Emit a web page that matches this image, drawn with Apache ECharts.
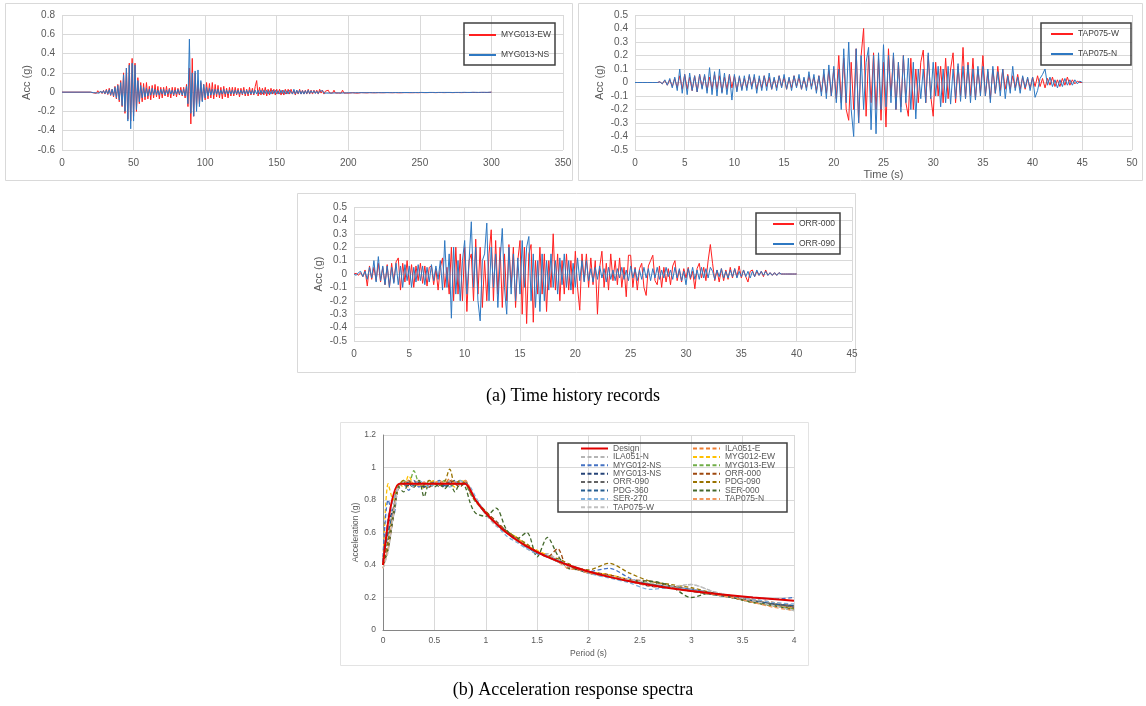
<!DOCTYPE html>
<html>
<head>
<meta charset="utf-8">
<script src="https://cdn.jsdelivr.net/npm/echarts@6/dist/echarts.min.js"></script>
<style>
html,body{margin:0;padding:0;background:#fff}
#chart{width:1146px;height:706px}
</style>
</head>
<body>
<div id="chart"></div>
<script>
// ---- time history: MYG013 (t from 20 s, dt 1 s) ----
var myg013Start = 20, myg013Dt = 1;
var myg013EW = [
  0, 0.005, -0.008, 0.01, -0.012, 0.015, -0.01, 0.012, -0.015, 0.018,
  -0.02, 0.03, -0.025, 0.04, -0.035, 0.03, -0.05, 0.06, -0.07, 0.08,
  -0.1, 0.12, -0.15, 0.2, -0.22, 0.25, -0.28, 0.3, -0.3, 0.35,
  -0.25, 0.3, -0.2, 0.15, -0.12, 0.1, -0.1, 0.09, -0.08, 0.1,
  -0.07, 0.06, -0.08, 0.07, -0.06, 0.08, -0.05, 0.06, -0.07, 0.05,
  -0.06, 0.05, -0.04, 0.06, -0.05, 0.04, -0.06, 0.05, -0.04, 0.05,
  -0.05, 0.04, -0.03, 0.05, -0.04, 0.05, -0.06, 0.08, -0.15, 0.25,
  -0.33, 0.35, -0.25, 0.2, -0.15, 0.12, -0.12, 0.1, -0.09, 0.08,
  -0.08, 0.1, -0.07, 0.09, -0.06, 0.1, -0.07, 0.08, -0.05, 0.07,
  -0.06, 0.05, -0.07, 0.06, -0.05, 0.04, -0.06, 0.05, -0.04, 0.05,
  -0.04, 0.05, -0.03, 0.04, -0.05, 0.04, -0.03, 0.05, -0.04, 0.03,
  -0.04, 0.05, -0.03, 0.04, -0.03, 0.06, 0.12, -0.04, 0.05, -0.03,
  0.04, -0.03, 0.05, -0.04, 0.03, -0.03, 0.04, -0.02, 0.03, -0.03,
  0.03, -0.02, 0.03, -0.03, 0.02, -0.03, 0.03, -0.02, 0.03, -0.02,
  0.03, -0.02, 0.02, -0.03, 0.02, -0.02, 0.03, -0.02, 0.02, -0.02,
  0.02, -0.02, 0.03, -0.02, 0.02, -0.02, 0.02, -0.01, 0.02, -0.02,
  0.03, -0.01, 0.02, -0.02, 0.01, -0.01, 0.02, -0.01, 0.01, -0.01,
  0.02, -0.01, 0.01, -0.01, 0.01, -0.01, 0.02, -0.01, 0.01, -0.01,
  0.01, -0.01, 0.01, -0.005, 0.01, -0.01, 0.005, -0.01, 0.01, -0.005,
  0.008, -0.006, 0.005, -0.008, 0.006, -0.005, 0.007, -0.006, 0.005, -0.007,
  0.006, -0.005, 0.008, -0.006, 0.005, -0.006, 0.007, -0.005, 0.006, -0.005,
  0.005, -0.006, 0.007, -0.005, 0.006, -0.007, 0.005, -0.006, 0.008, -0.005,
  0.006, -0.005, 0.005, -0.006, 0.007, -0.005, 0.006, -0.005, 0.005, -0.006,
  0.005, -0.004, 0.006, -0.005, 0.004, -0.005, 0.006, -0.004, 0.005, -0.004,
  0.004, -0.005, 0.006, -0.004, 0.005, -0.004, 0.004, -0.005, 0.006, -0.004,
  0.005, -0.004, 0.004, -0.005, 0.006, -0.004, 0.005, -0.004, 0.004, -0.005,
  0.004, -0.004, 0.005, -0.004, 0.003, -0.004, 0.005, -0.003, 0.004, -0.004,
  0.003, -0.004, 0.004, -0.003, 0.004, -0.003, 0.003, -0.004, 0.003, -0.002,
  0
];
var myg013NS = [
  0, 0.003, -0.005, 0.006, -0.008, 0.01, -0.01, 0.012, -0.01, 0.015,
  -0.015, 0.02, -0.02, 0.025, -0.03, 0.03, -0.04, 0.05, -0.06, 0.07,
  -0.08, 0.1, -0.14, 0.18, -0.2, 0.25, -0.3, 0.28, -0.38, 0.3,
  -0.3, 0.28, -0.18, 0.12, -0.1, 0.07, -0.06, 0.05, -0.05, 0.04,
  -0.04, 0.03, -0.03, 0.04, -0.03, 0.03, -0.03, 0.02, -0.03, 0.03,
  -0.02, 0.03, -0.03, 0.02, -0.02, 0.03, -0.02, 0.02, -0.03, 0.02,
  -0.02, 0.03, -0.02, 0.02, -0.03, 0.03, -0.04, 0.06, -0.12, 0.55,
  -0.22, 0.2, -0.25, 0.22, -0.2, 0.23, -0.15, 0.12, -0.1, 0.08,
  -0.06, 0.05, -0.04, 0.04, -0.03, 0.03, -0.03, 0.03, -0.02, 0.03,
  -0.03, 0.02, -0.02, 0.03, -0.02, 0.02, -0.02, 0.02, -0.02, 0.02,
  -0.02, 0.02, -0.02, 0.02, -0.02, 0.02, -0.02, 0.02, -0.02, 0.02,
  -0.02, 0.02, -0.02, 0.02, -0.02, 0.02, -0.02, 0.02, -0.02, 0.02,
  -0.02, 0.02, -0.015, 0.02, -0.02, 0.015, -0.02, 0.02, -0.015, 0.02,
  -0.02, 0.015, -0.02, 0.02, -0.015, 0.02, -0.02, 0.015, -0.02, 0.02,
  0.04, -0.02, 0.03, -0.02, 0.02, -0.015, 0.02, -0.02, 0.015, -0.02,
  0.015, -0.015, 0.02, -0.015, 0.015, -0.01, 0.015, -0.015, 0.01, -0.015,
  0.01, -0.01, 0.015, -0.01, 0.01, -0.01, 0.01, -0.01, 0.01, -0.01,
  0.01, -0.008, 0.01, -0.008, 0.008, -0.01, 0.008, -0.008, 0.01, -0.008,
  0.008, -0.006, 0.006, -0.008, 0.006, -0.006, 0.008, -0.006, 0.006, -0.005,
  0.005, -0.006, 0.005, -0.005, 0.006, -0.005, 0.005, -0.006, 0.005, -0.005,
  0.005, -0.005, 0.006, -0.005, 0.004, -0.005, 0.005, -0.004, 0.005, -0.005,
  0.004, -0.005, 0.005, -0.004, 0.005, -0.004, 0.004, -0.005, 0.005, -0.004,
  0.004, -0.004, 0.005, -0.004, 0.004, -0.005, 0.004, -0.004, 0.005, -0.004,
  0.004, -0.003, 0.004, -0.004, 0.003, -0.004, 0.004, -0.003, 0.004, -0.003,
  0.003, -0.004, 0.003, -0.003, 0.004, -0.003, 0.003, -0.003, 0.004, -0.003,
  0.003, -0.003, 0.003, -0.004, 0.003, -0.003, 0.003, -0.003, 0.003, -0.003,
  0.003, -0.002, 0.003, -0.003, 0.002, -0.003, 0.003, -0.002, 0.003, -0.002,
  0.002, -0.003, 0.002, -0.002, 0.003, -0.002, 0.002, -0.002, 0.002, -0.001,
  0
];

// ---- time history: TAP075 (t from 0 s, dt 0.25 s) ----
var tapStart = 0, tapDt = 0.25;
var tap075W = [
  0, 0, 0, 0,  0, 0, 0, 0,  0, 0, 0.005, -0.01,  0.015, -0.02, 0.02, -0.03,
  0.03, -0.04, 0.05, -0.05,  0.06, -0.05, 0.04, -0.06,  0.05, -0.07, 0.06, -0.04,
  0.05, -0.06, 0.04, -0.05,  0.06, -0.05, 0.05, -0.07,  0.04, -0.05, 0.06, -0.04,
  0.05, -0.06, 0.04, -0.05,  0.03, -0.04, 0.05, -0.03,  0.04, -0.05, 0.03, -0.04,
  0.05, -0.03, 0.04, -0.05,  0.03, -0.04, 0.05, -0.03,  0.04, -0.05, 0.03, -0.04,
  0.05, -0.03, 0.04, -0.05,  0.03, -0.04, 0.05, -0.03,  0.04, -0.06, 0.05, -0.07,
  0.06, -0.08, 0.09, -0.1,  0.1, -0.12, 0.2, -0.15,  0.18, -0.2, -0.28, 0.15,
  -0.2, 0.25, -0.3, 0.2,  0.4, -0.25, 0.2, -0.15,  0.22, -0.2, 0.18, -0.28,
  0.15, -0.33, 0.25, -0.1,  0.2, -0.2, 0.15, -0.18,  0.2, -0.15, -0.25, 0.18,
  -0.2, 0.1, -0.15, 0.15,  0.24, -0.15, 0.2, -0.1,  -0.25, 0.15, -0.1, 0.12,
  -0.15, 0.18, -0.12, 0.1,  0.22, -0.15, 0.12, -0.1,  0.26, -0.12, 0.15, -0.1,
  0.18, -0.12, 0.1, -0.08,  0.2, -0.1, 0.08, -0.12,  0.1, -0.08, 0.12, -0.06,
  0.1, -0.05, 0.06, -0.05,  0.05, -0.04, 0.06, -0.05,  0.04, -0.05, 0.03, -0.04,
  0.04, -0.03, 0.05, -0.03,  0.03, -0.04, 0.03, -0.02,  0.04, -0.03, 0.02, -0.03,
  0.03, -0.02, 0.04, -0.02,  0.02, -0.01, 0.01, 0,
  0
];
var tap075N = [
  0, 0, 0, 0,  0, 0, 0, 0,  0, 0, 0.005, -0.01,  0.02, -0.02, 0.03, -0.04,
  0.04, -0.06, 0.1, -0.08,  0.06, -0.09, 0.07, -0.06,  0.05, -0.07, 0.06, -0.05,
  0.06, -0.08, 0.11, -0.09,  0.08, -0.1, 0.1, -0.08,  0.07, -0.09, 0.06, -0.13,
  0.06, -0.07, 0.05, -0.06,  0.05, -0.06, 0.06, -0.05,  0.06, -0.08, 0.05, -0.06,
  0.05, -0.06, 0.07, -0.05,  0.04, -0.06, 0.05, -0.04,  0.06, -0.05, 0.04, -0.06,
  0.05, -0.04, 0.06, -0.05,  0.04, -0.06, 0.08, -0.05,  0.06, -0.08, 0.05, -0.1,
  0.1, -0.12, 0.13, -0.1,  0.12, -0.15, 0.1, -0.2,  0.25, -0.15, 0.3, -0.2,
  -0.4, 0.25, -0.3, 0.2,  -0.2, 0.15, 0.26, -0.35,  0.2, -0.38, 0.22, -0.2,
  0.28, -0.18, 0.2, -0.15,  0.22, -0.2, 0.15, -0.22,  0.2, -0.15, 0.18, -0.2,
  0.15, -0.27, 0.1, -0.12,  0.1, -0.15, 0.22, -0.12,  0.15, -0.1, 0.12, -0.18,
  0.1, -0.15, 0.12, -0.16,  0.1, -0.12, 0.14, -0.14,  0.12, -0.12, 0.13, -0.15,
  0.1, -0.13, 0.12, -0.1,  0.12, -0.1, 0.1, -0.15,  0.12, -0.08, 0.08, -0.1,
  0.1, -0.12, 0.05, -0.08,  0.12, -0.06, 0.04, -0.08,  0.05, -0.04, 0.04, -0.06,
  0.04, -0.11, -0.06, 0.03,  0.06, 0.1, -0.02, 0.04,  -0.03, 0.02, -0.04, 0.02,
  -0.03, 0.03, -0.02, 0.02,  -0.02, 0.02, -0.01, 0.01,
  0
];

// ---- time history: ORR (t from 0 s, dt 0.2 s) ----
var orrStart = 0, orrDt = 0.2;
var orr000 = [
  0, 0.005, -0.01, 0.01, -0.02,   0.03, -0.09, 0.06, -0.04, 0.05,
  -0.05, 0.08, -0.06, 0.05, -0.08,   0.07, -0.1, 0.08, -0.06, 0.09,
  0.12, -0.12, 0.08, -0.06, 0.1,   -0.08, 0.07, -0.1, 0.06, -0.05,
  0.08, -0.07, 0.06, -0.09, 0.05,   0.06, -0.08, 0.04, -0.12, 0.05,
  0.12, -0.1, 0.05, -0.15, 0.2,   -0.2, 0.2, -0.15, 0.15, -0.2,
  0.2, -0.28, 0.1, 0.15, -0.2,   0.26, -0.15, 0.2, -0.25, 0.1,
  -0.2, 0.15, 0.33, -0.2, 0.25,   -0.15, 0.2, -0.25, 0.15, -0.2,
  0.22, -0.1, 0.2, -0.25, 0.1,   0.25, -0.3, 0.2, -0.37, 0.15,
  0.22, -0.36, 0.1, -0.15, 0.2,   -0.15, 0.15, -0.28, 0.1, -0.1,
  0.3, -0.12, 0.15, -0.2, 0.1,   -0.15, 0.15, -0.12, 0.1, -0.15,
  0.17, -0.1, -0.27, 0.15, -0.05,   0.15, -0.1, 0.12, -0.08, 0.1,
  -0.3, 0.05, 0.17, -0.1, 0.08,   -0.12, 0.15, -0.05, 0.1, -0.08,
  0.12, -0.1, 0.05, -0.17, 0.14,   0.14, -0.1, 0.05, -0.12, 0.04,
  0.08, -0.1, -0.16, 0.06, 0.1,   0.14, -0.05, -0.08, 0.06, -0.1,
  0.05, -0.06, 0.04, -0.08, 0.06,   0.1, -0.05, 0.03, -0.06, 0.04,
  -0.03, 0.05, -0.04, 0.02, -0.11,   0.04, 0.08, -0.03, 0.05, -0.05,
  0.1, 0.22, 0.08, -0.05, 0.03,   -0.06, 0.04, -0.05, 0.03, -0.04,
  0.05, -0.03, 0.04, -0.02, 0.06,   -0.03, 0.03, -0.02, -0.06, 0.02,
  0.03, -0.02, 0.02, -0.01, 0.02,   -0.02, 0.03, -0.01, 0.01, -0.01,
  0.01, -0.01, 0.01, 0, 0,   0, 0, 0, 0, 0,
  0
];
var orr090 = [
  0, -0.01, 0.01, 0.02, -0.02,   0.02, -0.04, 0.05, -0.03, 0.1,
  -0.06, 0.13, -0.05, 0.06, -0.08,   0.06, -0.1, 0.05, -0.07, 0.08,
  -0.08, 0.06, -0.1, 0.07, -0.05,   0.06, -0.1, 0.05, -0.06, 0.07,
  -0.05, 0.06, -0.08, 0.05, -0.06,   0.07, -0.05, 0.06, -0.04, 0.1,
  -0.12, 0.25, -0.1, 0.15, -0.33,   0.2, -0.15, 0.1, -0.2, 0.1,
  0.25, -0.15, 0.1, 0.39, -0.1,   0.2, -0.2, -0.35, 0.1, 0.15,
  0.38, -0.2, 0.2, -0.1, 0.15,   -0.25, 0.1, 0.34, -0.1, -0.3,
  0.2, -0.15, 0.15, -0.2, 0.12,   -0.15, 0.25, -0.1, 0.2, 0.28,
  -0.2, 0.15, -0.25, 0.1, -0.28,   0.15, -0.2, 0.1, -0.12, 0.15,
  -0.1, 0.1, -0.15, 0.12, -0.08,   0.15, -0.1, 0.1, -0.12, 0.08,
  -0.1, 0.12, -0.05, 0.1, -0.06,   0.1, -0.05, 0.04, -0.06, 0.05,
  -0.04, 0.06, -0.03, 0.04, -0.06,   0.05, -0.04, 0.03, -0.05, 0.04,
  -0.03, 0.05, -0.04, 0.03, -0.05,   0.06, -0.03, 0.04, -0.05, 0.03,
  -0.04, 0.05, -0.03, 0.04, -0.05,   0.04, -0.03, 0.05, -0.04, 0.03,
  -0.03, 0.05, -0.02, 0.03, -0.04,   0.05, -0.03, 0.04, -0.05, 0.02,
  -0.08, 0.04, -0.03, 0.05, -0.04,   0.03, -0.04, 0.05, -0.03, 0.04,
  -0.03, 0.05, 0.02, -0.04, 0.03,   -0.02, 0.04, -0.03, 0.02, -0.03,
  0.03, -0.02, 0.04, -0.03, 0.02,   -0.02, 0.03, -0.02, 0.02, -0.03,
  0.02, -0.02, 0.03, -0.01, 0.02,   -0.01, 0.02, -0.01, 0.01, -0.01,
  0.01, -0.01, 0.01, 0, 0,   0, 0, 0, 0, 0,
  0
];

// ---- acceleration response spectra ----
var periods = [0, 0.05, 0.1, 0.15, 0.2, 0.25, 0.3, 0.35, 0.4, 0.45, 0.5, 0.55, 0.6, 0.65, 0.7, 0.75, 0.8, 0.85, 0.9,
  1.0, 1.1, 1.2, 1.3, 1.4, 1.5, 1.6, 1.7, 1.8, 1.9, 2.0,
  2.2, 2.4, 2.6, 2.8, 3.0, 3.2, 3.4, 3.6, 3.8, 4.0];
var designPeriods = [0, 0.16, 0.8, 0.9, 1.0, 1.1, 1.2, 1.3, 1.4, 1.5, 1.6, 1.8, 2.0, 2.2, 2.4, 2.6, 2.8, 3.0, 3.3, 3.6, 4.0];
var designAcc = [0.4, 0.9, 0.9, 0.8, 0.72, 0.655, 0.6, 0.554, 0.514, 0.48, 0.45, 0.4, 0.36, 0.327, 0.3, 0.277, 0.257, 0.24, 0.218, 0.2, 0.18];
var recordNames = ['ILA051-E', 'ILA051-N', 'MYG012-EW', 'MYG012-NS', 'MYG013-EW', 'MYG013-NS', 'ORR-000',
  'ORR-090', 'PDG-090', 'PDG-360', 'SER-000', 'SER-270', 'TAP075-N', 'TAP075-W'];
var recordColors = ['#ed7d31', '#b4b4b4', '#ffc000', '#4472c4', '#70ad47', '#264478', '#9e480e',
  '#636363', '#997300', '#255e91', '#43682b', '#7cafdd', '#f1975a', '#c0c0c0'];
var recordAcc = [
  [0.38,0.5,0.7,0.88,0.9,0.88,0.92,0.9,0.88,0.9,0.92,0.89,0.9,0.93,0.9,0.91,0.9,0.84,0.79, 0.72,0.66,0.6,0.56,0.52,0.48,0.46,0.43,0.4,0.38,0.36, 0.33,0.3,0.28,0.27,0.24,0.22,0.21,0.19,0.17,0.15],
  [0.4,0.6,0.75,0.88,0.91,0.9,0.89,0.92,0.88,0.9,0.91,0.9,0.88,0.92,0.9,0.9,0.91,0.86,0.8, 0.71,0.64,0.6,0.55,0.5,0.47,0.47,0.43,0.39,0.37,0.36, 0.33,0.3,0.28,0.26,0.28,0.24,0.2,0.17,0.15,0.13],
  [0.4,0.9,0.8,0.9,0.88,0.95,0.9,0.92,0.87,0.9,0.92,0.89,0.91,0.9,0.88,0.92,0.91,0.85,0.8, 0.72,0.66,0.61,0.57,0.52,0.49,0.46,0.42,0.4,0.37,0.36, 0.34,0.31,0.28,0.26,0.24,0.22,0.2,0.18,0.16,0.14],
  [0.45,0.8,0.7,0.88,0.9,0.86,0.92,0.88,0.91,0.88,0.9,0.92,0.88,0.9,0.92,0.89,0.9,0.86,0.8, 0.72,0.67,0.6,0.56,0.51,0.47,0.45,0.42,0.4,0.38,0.36, 0.38,0.32,0.28,0.27,0.25,0.23,0.21,0.2,0.19,0.2],
  [0.42,0.6,0.72,0.88,0.92,0.9,0.98,0.9,0.88,0.92,0.89,0.9,0.92,0.88,0.9,0.91,0.9,0.84,0.79, 0.73,0.66,0.6,0.57,0.52,0.48,0.45,0.43,0.4,0.38,0.36, 0.33,0.3,0.29,0.27,0.24,0.22,0.2,0.17,0.15,0.13],
  [0.42,0.65,0.75,0.88,0.9,0.89,0.9,0.91,0.88,0.9,0.9,0.9,0.88,0.9,0.92,0.89,0.91,0.85,0.8, 0.72,0.66,0.61,0.56,0.51,0.48,0.45,0.43,0.4,0.37,0.35, 0.33,0.3,0.27,0.26,0.24,0.22,0.2,0.18,0.16,0.15],
  [0.4,0.5,0.7,0.88,0.9,0.92,0.88,0.9,0.9,0.88,0.9,0.91,0.89,0.92,0.9,0.88,0.92,0.86,0.8, 0.73,0.67,0.61,0.56,0.52,0.48,0.45,0.5,0.38,0.38,0.36, 0.34,0.31,0.3,0.27,0.25,0.23,0.21,0.18,0.16,0.14],
  [0.4,0.55,0.7,0.88,0.9,0.9,0.88,0.91,0.89,0.9,0.91,0.88,0.9,0.91,0.9,0.9,0.91,0.86,0.8, 0.72,0.66,0.6,0.55,0.51,0.48,0.45,0.42,0.4,0.38,0.36, 0.33,0.3,0.28,0.26,0.24,0.22,0.2,0.18,0.16,0.14],
  [0.4,0.55,0.72,0.88,0.92,0.9,0.88,0.9,0.89,0.92,0.9,0.89,0.91,0.99,0.9,0.92,0.9,0.86,0.8, 0.73,0.66,0.61,0.57,0.53,0.48,0.45,0.44,0.41,0.38,0.37, 0.41,0.35,0.3,0.28,0.26,0.23,0.2,0.17,0.15,0.13],
  [0.42,0.6,0.73,0.88,0.9,0.91,0.89,0.9,0.9,0.89,0.9,0.9,0.89,0.9,0.91,0.9,0.9,0.86,0.8, 0.72,0.66,0.6,0.56,0.51,0.48,0.45,0.43,0.4,0.38,0.36, 0.33,0.3,0.28,0.26,0.24,0.22,0.2,0.18,0.16,0.15],
  [0.4,0.5,0.7,0.88,0.85,0.9,0.88,0.92,0.82,0.9,0.88,0.9,0.87,0.9,0.85,0.9,0.88,0.78,0.72, 0.7,0.75,0.62,0.56,0.6,0.45,0.57,0.46,0.38,0.37,0.35, 0.33,0.3,0.3,0.27,0.2,0.23,0.2,0.17,0.15,0.12],
  [0.42,0.7,0.8,0.88,0.9,0.9,0.88,0.92,0.9,0.88,0.9,0.91,0.9,0.88,0.9,0.92,0.9,0.88,0.82, 0.72,0.65,0.58,0.54,0.5,0.47,0.46,0.42,0.4,0.38,0.35, 0.32,0.29,0.25,0.26,0.25,0.23,0.21,0.19,0.17,0.16],
  [0.38,0.5,0.72,0.88,0.9,0.92,0.9,0.89,0.91,0.9,0.9,0.92,0.9,0.9,0.91,0.9,0.92,0.87,0.8, 0.72,0.66,0.6,0.56,0.52,0.48,0.45,0.42,0.38,0.37,0.35, 0.33,0.3,0.27,0.26,0.24,0.22,0.2,0.17,0.14,0.12],
  [0.38,0.48,0.7,0.88,0.9,0.9,0.9,0.9,0.89,0.9,0.9,0.9,0.9,0.9,0.9,0.9,0.9,0.86,0.81, 0.72,0.66,0.6,0.55,0.51,0.48,0.45,0.43,0.4,0.38,0.36, 0.33,0.31,0.29,0.27,0.28,0.24,0.21,0.18,0.15,0.12]
];
var legendLeftCol = ['Design', 'ILA051-N', 'MYG012-NS', 'MYG013-NS', 'ORR-090', 'PDG-360', 'SER-270', 'TAP075-W'];
var legendRightCol = ['ILA051-E', 'MYG012-EW', 'MYG013-EW', 'ORR-000', 'PDG-090', 'SER-000', 'TAP075-N'];

var RED = '#ff2020', BLUE = '#2e78c2';
var GRAY_TXT = '#595959', GRID_LINE = '#d9d9d9';
var FONT = 'Liberation Sans, Arial, sans-serif';
// hides the circle that line series put in the middle of legend icons
var NO_SYMBOL = { opacity: 0, color: 'rgba(0,0,0,0)', borderColor: 'rgba(0,0,0,0)', borderWidth: 0 };

function toPairs(t0, dt, vals) {
  return vals.map(function (v, i) { return [+(t0 + i * dt).toFixed(3), v]; });
}
function pairUp(xs, ys) {
  return xs.map(function (x, i) { return [x, ys[i]]; });
}

function thXAxis(gi, max, interval, name) {
  return {
    gridIndex: gi, type: 'value', min: 0, max: max, interval: interval,
    name: name || '', nameLocation: 'middle', nameGap: 19,
    nameTextStyle: { color: GRAY_TXT, fontSize: 11, fontFamily: FONT },
    axisLine: { show: false }, axisTick: { show: false },
    axisLabel: { color: GRAY_TXT, fontSize: 10, fontFamily: FONT, margin: 8 },
    splitLine: { show: true, lineStyle: { color: GRID_LINE, width: 1 } }
  };
}
function thYAxis(gi, min, max, interval) {
  return {
    gridIndex: gi, type: 'value', min: min, max: max, interval: interval,
    name: 'Acc (g)', nameLocation: 'middle', nameGap: 30,
    nameTextStyle: { color: GRAY_TXT, fontSize: 11, fontFamily: FONT },
    axisLine: { show: false }, axisTick: { show: false },
    axisLabel: { color: GRAY_TXT, fontSize: 10, fontFamily: FONT, margin: 7 },
    splitLine: { show: true, lineStyle: { color: GRID_LINE, width: 1 } }
  };
}
function thSeries(name, gi, color, data) {
  return {
    name: name, type: 'line', xAxisIndex: gi, yAxisIndex: gi,
    data: data, symbol: 'none', showSymbol: false,
    lineStyle: { color: color, width: 1 }, itemStyle: { color: color },
    silent: true
  };
}
function thLegend(names, left, top, iw) {
  return {
    data: names, orient: 'vertical', left: left, top: top, padding: 0,
    itemWidth: iw, itemHeight: 10, itemGap: 8, selectedMode: false,
    itemStyle: NO_SYMBOL,
    formatter: function (n) { return n.replace('th:', ''); },
    textStyle: { color: '#404040', fontSize: 8.5, fontFamily: FONT, lineHeight: 12 }
  };
}

var series = [
  thSeries('th:MYG013-EW', 0, RED, [[0, 0]].concat(toPairs(myg013Start, myg013Dt, myg013EW))),
  thSeries('th:MYG013-NS', 0, BLUE, [[0, 0]].concat(toPairs(myg013Start, myg013Dt, myg013NS))),
  thSeries('th:TAP075-W', 1, RED, toPairs(tapStart, tapDt, tap075W)),
  thSeries('th:TAP075-N', 1, BLUE, toPairs(tapStart, tapDt, tap075N)),
  thSeries('th:ORR-000', 2, RED, toPairs(orrStart, orrDt, orr000)),
  thSeries('th:ORR-090', 2, BLUE, toPairs(orrStart, orrDt, orr090))
];
recordNames.forEach(function (n, k) {
  series.push({
    name: n, type: 'line', xAxisIndex: 3, yAxisIndex: 3,
    data: pairUp(periods, recordAcc[k]), symbol: 'none', smooth: 0.3,
    lineStyle: { color: recordColors[k], width: 1.3, type: [4, 2.5] },
    itemStyle: { color: recordColors[k] }, silent: true
  });
});
series.push({
  name: 'Design', type: 'line', xAxisIndex: 3, yAxisIndex: 3, z: 5,
  data: pairUp(designPeriods, designAcc), symbol: 'none', smooth: 0.2,
  lineStyle: { color: '#e00000', width: 2 }, itemStyle: { color: '#e00000' }, silent: true
});

var spAxisText = { color: GRAY_TXT, fontSize: 8.5, fontFamily: FONT };
function spLegend(names, left) {
  return {
    data: names, orient: 'vertical', left: left, top: 444, padding: 0,
    itemWidth: 27, itemHeight: 7, itemGap: -0.6, selectedMode: false,
    itemStyle: NO_SYMBOL,
    textStyle: { color: GRAY_TXT, fontSize: 8.5, fontFamily: FONT, lineHeight: 7 }
  };
}

var option = {
  animation: false,
  backgroundColor: '#fff',
  grid: [
    { left: 62, top: 15, width: 501, height: 135 },
    { left: 635, top: 15, width: 497, height: 135 },
    { left: 354, top: 207, width: 498, height: 134 },
    { left: 383, top: 435, width: 411, height: 195 }
  ],
  xAxis: [
    thXAxis(0, 350, 50),
    thXAxis(1, 50, 5, 'Time (s)'),
    thXAxis(2, 45, 5),
    {
      gridIndex: 3, type: 'value', min: 0, max: 4, interval: 0.5,
      name: 'Period (s)', nameLocation: 'middle', nameGap: 19, nameTextStyle: spAxisText,
      axisLine: { show: true, lineStyle: { color: '#868686' } },
      axisTick: { show: false },
      axisLabel: Object.assign({ margin: 6 }, spAxisText),
      splitLine: { show: true, lineStyle: { color: GRID_LINE } }
    }
  ],
  yAxis: [
    thYAxis(0, -0.6, 0.8, 0.2),
    thYAxis(1, -0.5, 0.5, 0.1),
    thYAxis(2, -0.5, 0.5, 0.1),
    {
      gridIndex: 3, type: 'value', min: 0, max: 1.2, interval: 0.2,
      name: 'Acceleration (g)', nameLocation: 'middle', nameGap: 20, nameTextStyle: spAxisText,
      axisLine: { show: true, lineStyle: { color: '#868686' } },
      axisTick: { show: false },
      axisLabel: Object.assign({ margin: 7 }, spAxisText),
      splitLine: { show: true, lineStyle: { color: GRID_LINE } }
    }
  ],
  legend: [
    thLegend(['th:MYG013-EW', 'th:MYG013-NS'], 468, 29, 27),
    thLegend(['th:TAP075-W', 'th:TAP075-N'], 1050, 28, 22),
    thLegend(['th:ORR-000', 'th:ORR-090'], 772, 218, 21),
    spLegend(legendLeftCol, 580),
    spLegend(legendRightCol, 692)
  ],
  graphic: [
    // panel frames
    { type: 'rect', shape: { x: 5.5, y: 3.5, width: 567, height: 177 }, style: { fill: null, stroke: '#d9d9d9', lineWidth: 1 }, silent: true },
    { type: 'rect', shape: { x: 578.5, y: 3.5, width: 564, height: 177 }, style: { fill: null, stroke: '#d9d9d9', lineWidth: 1 }, silent: true },
    { type: 'rect', shape: { x: 297.5, y: 193.5, width: 558, height: 179 }, style: { fill: null, stroke: '#d9d9d9', lineWidth: 1 }, silent: true },
    { type: 'rect', shape: { x: 340.5, y: 422.5, width: 468, height: 243 }, style: { fill: null, stroke: '#e3e3e3', lineWidth: 1 }, silent: true },
    // legend boxes
    { type: 'rect', z: 10, shape: { x: 464, y: 23, width: 91, height: 42 }, style: { fill: 'rgba(255,255,255,0)', stroke: '#404040', lineWidth: 1.5 }, silent: true },
    { type: 'rect', z: 10, shape: { x: 1041, y: 23, width: 90, height: 42 }, style: { fill: 'rgba(255,255,255,0)', stroke: '#404040', lineWidth: 1.5 }, silent: true },
    { type: 'rect', z: 10, shape: { x: 756, y: 213, width: 84, height: 41 }, style: { fill: 'rgba(255,255,255,0)', stroke: '#404040', lineWidth: 1.5 }, silent: true },
    { type: 'rect', z: 10, shape: { x: 558, y: 443, width: 229, height: 69 }, style: { fill: 'rgba(255,255,255,0)', stroke: '#404040', lineWidth: 1.5 }, silent: true },
    // captions
    { type: 'text', x: 573, y: 396, style: { text: '(a) Time history records', font: '18px "Liberation Serif", "Times New Roman", serif', fill: '#000', textAlign: 'center', textVerticalAlign: 'middle' }, silent: true },
    { type: 'text', x: 573, y: 690, style: { text: '(b) Acceleration response spectra', font: '18px "Liberation Serif", "Times New Roman", serif', fill: '#000', textAlign: 'center', textVerticalAlign: 'middle' }, silent: true }
  ],
  series: series
};

var chart = echarts.init(document.getElementById('chart'));
chart.setOption(option);
window.addEventListener('resize', function () { chart.resize(); });
</script>
</body>
</html>
